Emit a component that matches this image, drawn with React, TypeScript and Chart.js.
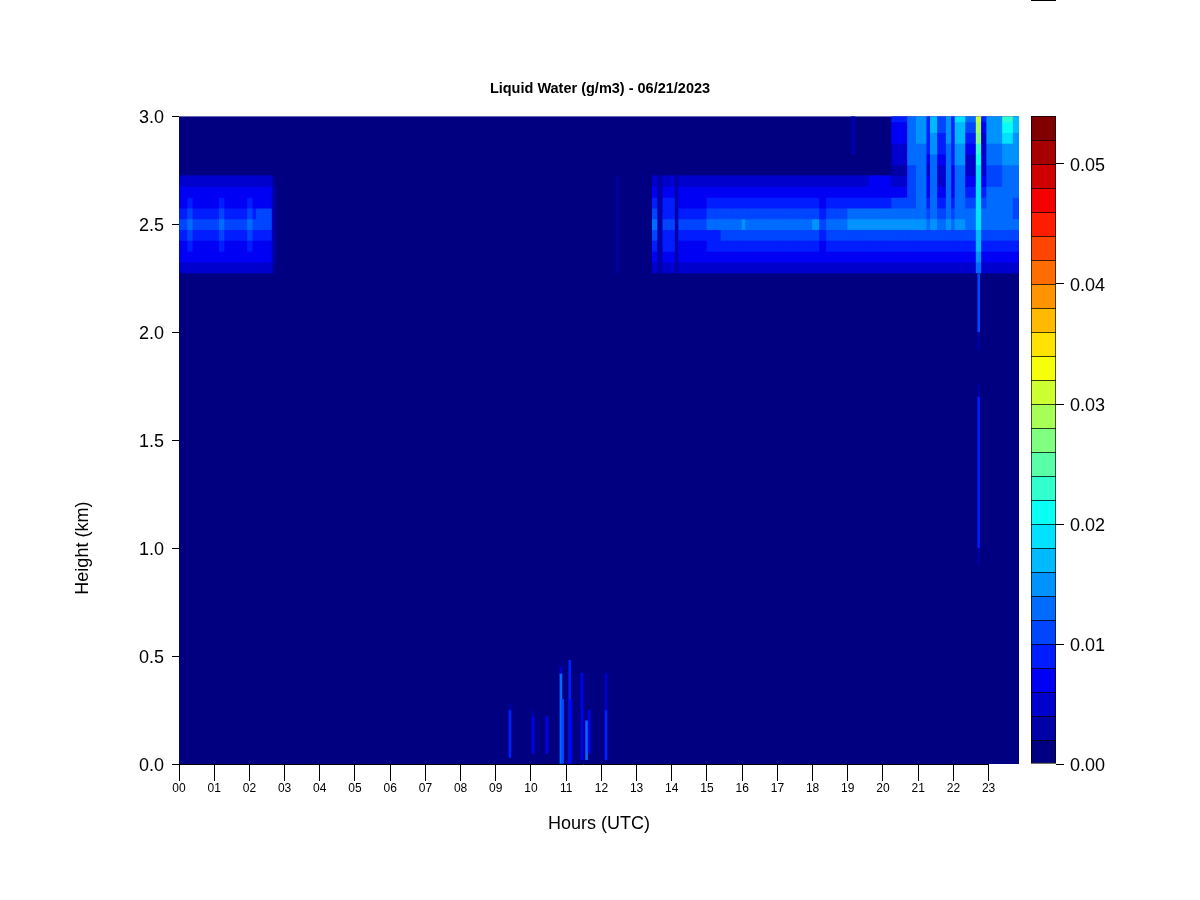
import React, { useEffect, useRef } from "react";
import { Chart, registerables } from "chart.js";

Chart.register(...registerables);

const FONT = "'Liberation Sans', Arial, sans-serif";
const titleText = "Liquid Water (g/m3) - 06/21/2023";
const xLabel = "Hours (UTC)";
const yLabel = "Height (km)";

// Colour bins: each is 0.002 g/m3 wide, from 0 to 0.054
const binWidth = 0.002;
const binColors = [
  "#000080", "#0000A7", "#0000CE", "#0000F5", "#001DFF", "#0045FF", "#006CFF", "#0093FF", "#00BAFF",
  "#00E2FF", "#0AFFF5", "#31FFCE", "#58FFA7", "#80FF80", "#A7FF58", "#CEFF31", "#F5FF0A", "#FFE200",
  "#FFBA00", "#FF9300", "#FF6C00", "#FF4500", "#FF1D00", "#F50000", "#CE0000", "#A70000", "#800000",
];

// Upper layer gates (km), the order used by each row of upperValues
const upperGates = [2.3, 2.35, 2.4, 2.45, 2.5, 2.55, 2.6, 2.65, 2.7, 2.75, 2.8, 2.85, 2.9, 2.95, 3.0];
const gateHalf = 0.025;
const columnStep = 0.05;

// Time spans (hours UTC) and liquid water (thousandths of g/m3) at each gate
const spanStart = [
  0, 0.25, 0.4, 1.15, 1.3, 1.95, 2.1, 2.2, 2.65, 2.7, 12.42, 13.45, 13.6, 13.75, 14.1, 14.2, 15, 15.4, 15.7, 16, 16.1,
  17, 17.4, 18, 18.2, 18.4, 19, 19.1, 19.2, 19.6, 20.25, 20.7, 20.95, 21.25, 21.35, 21.55, 21.8, 21.95, 22.05, 22.35,
  22.65, 22.8, 22.95, 23.4, 23.7,
];
const spanEnd = [
  0.25, 0.4, 1.15, 1.3, 1.95, 2.1, 2.2, 2.65, 2.7, 2.75, 12.47, 13.6, 13.75, 14.1, 14.2, 15, 15.4, 15.7, 16, 16.1, 17,
  17.4, 18, 18.2, 18.4, 19, 19.1, 19.2, 19.6, 20.25, 20.7, 20.95, 21.25, 21.35, 21.55, 21.8, 21.95, 22.05, 22.35, 22.65,
  22.8, 22.95, 23.4, 23.7, 23.9,
];
const upperValues = [
  [5, 6, 7, 9, 11, 9, 7, 6, 5, 0, 0, 0, 0, 0, 0],
  [5, 7, 8, 10, 13, 10, 8, 7, 5, 0, 0, 0, 0, 0, 0],
  [5, 6, 7, 9, 11, 9, 7, 6, 5, 0, 0, 0, 0, 0, 0],
  [5, 7, 8, 10, 13, 10, 8, 7, 5, 0, 0, 0, 0, 0, 0],
  [5, 6, 7, 9, 11, 9, 7, 6, 5, 0, 0, 0, 0, 0, 0],
  [5, 7, 8, 10, 13, 10, 8, 7, 5, 0, 0, 0, 0, 0, 0],
  [5, 6, 7, 9, 11, 9, 7, 6, 5, 0, 0, 0, 0, 0, 0],
  [5, 6, 7, 9, 11, 11, 7, 6, 5, 0, 0, 0, 0, 0, 0],
  [3, 3, 3, 3, 3, 3, 3, 3, 3, 0, 0, 0, 0, 0, 0],
  [1, 3, 3, 3, 3, 3, 3, 3, 1, 0, 0, 0, 0, 0, 0],
  [3, 3, 3, 3, 3, 3, 3, 3, 3, 0, 0, 0, 0, 0, 0],
  [5, 6, 8, 10, 13, 10, 8, 6, 5, 0, 0, 0, 0, 0, 0],
  [2, 3, 3, 3, 3, 3, 3, 3, 2, 0, 0, 0, 0, 0, 0],
  [5, 6, 8, 9, 10, 9, 8, 6, 5, 0, 0, 0, 0, 0, 0],
  [3, 3, 3, 3, 3, 3, 3, 3, 3, 0, 0, 0, 0, 0, 0],
  [4, 6, 7, 9, 11, 9, 7, 6, 4, 0, 0, 0, 0, 0, 0],
  [5, 6, 8, 9, 12, 10, 8, 6, 4, 0, 0, 0, 0, 0, 0],
  [5, 7, 8, 11, 13, 11, 8, 6, 5, 0, 0, 0, 0, 0, 0],
  [5, 6, 8, 10, 12, 10, 8, 6, 4, 0, 0, 0, 0, 0, 0],
  [5, 7, 9, 11, 14, 11, 9, 7, 5, 0, 0, 0, 0, 0, 0],
  [5, 7, 8, 10, 13, 10, 8, 6, 5, 0, 0, 0, 0, 0, 0],
  [5, 7, 9, 11, 13, 11, 9, 7, 5, 0, 0, 0, 0, 0, 0],
  [5, 7, 8, 10, 12, 10, 8, 6, 5, 0, 0, 0, 0, 0, 0],
  [5, 7, 9, 11, 14, 11, 9, 7, 5, 0, 0, 0, 0, 0, 0],
  [4, 6, 7, 9, 11, 9, 7, 6, 4, 0, 0, 0, 0, 0, 0],
  [5, 7, 9, 11, 13, 11, 9, 7, 5, 0, 0, 0, 0, 0, 0],
  [5, 7, 9, 11, 14, 12, 9, 7, 5, 0, 0, 0, 0, 0, 0],
  [5, 7, 9, 11, 14, 12, 9, 7, 5, 0, 0, 3, 3, 3, 3],
  [5, 7, 9, 11, 14, 12, 9, 7, 5, 0, 0, 0, 0, 0, 0],
  [5, 7, 9, 11, 15, 13, 9, 7, 6, 1, 0, 0, 0, 0, 0],
  [5, 7, 9, 11, 15, 13, 10, 7, 5, 3, 5, 5, 6, 7, 9],
  [5, 7, 9, 11, 15, 13, 11, 11, 11, 11, 13, 13, 13, 13, 13],
  [5, 7, 9, 11, 15, 13, 13, 13, 13, 13, 13, 13, 15, 15, 15],
  [5, 7, 9, 11, 13, 11, 9, 7, 7, 5, 7, 9, 9, 9, 9],
  [5, 7, 9, 11, 15, 13, 13, 13, 13, 13, 13, 15, 15, 17, 17],
  [5, 7, 9, 11, 13, 11, 9, 7, 5, 5, 7, 9, 9, 11, 11],
  [5, 7, 9, 11, 15, 13, 13, 13, 13, 13, 13, 13, 15, 15, 15],
  [5, 7, 9, 11, 13, 11, 9, 7, 7, 7, 9, 9, 9, 9, 9],
  [5, 7, 9, 11, 15, 13, 13, 13, 13, 13, 15, 15, 17, 17, 19],
  [5, 7, 9, 11, 13, 13, 11, 9, 7, 5, 5, 7, 9, 11, 13],
  [13, 15, 17, 17, 19, 19, 19, 19, 19, 19, 21, 23, 27, 29, 31],
  [5, 7, 9, 11, 13, 13, 11, 9, 7, 5, 5, 5, 5, 7, 9],
  [5, 7, 9, 11, 13, 13, 13, 13, 11, 11, 13, 13, 15, 15, 15],
  [5, 7, 9, 11, 13, 13, 13, 13, 13, 13, 15, 15, 19, 21, 23],
  [5, 7, 9, 11, 13, 11, 11, 13, 13, 13, 15, 15, 15, 17, 17],
];

// Narrow streaks outside the upper layer
const streakHour = [
  9.4, 9.4, 10.06, 10.06, 10.45, 10.85, 10.9, 10.85, 11.1, 11.13, 11.45, 11.58, 11.65, 12.13, 12.13, 22.72, 22.72,
  22.72, 22.72, 22.72,
];
const streakLow = [
  0.03, 0.25, 0.05, 0.22, 0.05, 0, 0, 0.42, 0, 0, 0.02, 0.02, 0.05, 0.02, 0.25, 2.0, 1.92, 1.68, 1.0, 0.93,
];
const streakHigh = [
  0.25, 0.28, 0.22, 0.25, 0.22, 0.42, 0.3, 0.45, 0.48, 0.3, 0.42, 0.2, 0.25, 0.25, 0.42, 2.27, 2.0, 1.76, 1.7, 1.0,
];
const streakValue = [9, 3, 7, 3, 7, 13, 11, 5, 9, 7, 7, 13, 7, 9, 5, 11, 3, 3, 9, 3];

const hourTickEnd = 23;
const xMax = 23.864;
const yMax = 3;
const yLabelCentre = 1.0;
const colorbarMax = 0.054;

const colorFor = (value: number) =>
  binColors[Math.min(binColors.length - 1, Math.max(0, Math.floor(value / binWidth)))];

const layerCells = () => {
  const cells: any[] = [];
  spanStart.forEach((start, s) => {
    const columns = Math.max(1, Math.round((spanEnd[s] - start) / columnStep));
    for (let c = 0; c < columns; c++) {
      upperGates.forEach((gate, g) => {
        const v = upperValues[s][g] / 1000;
        if (v < binWidth) return;
        cells.push({ x: start + (c + 0.5) * columnStep, y: [gate - gateHalf, gate + gateHalf], v });
      });
    }
  });
  return cells;
};

const streakCells = () =>
  streakHour.map((x, i) => ({ x, y: [streakLow[i], streakHigh[i]], v: streakValue[i] / 1000 }));

const plotBackground = {
  id: "plotBackground",
  beforeDatasetsDraw(chart: any) {
    const { ctx, chartArea: a } = chart;
    ctx.save();
    ctx.fillStyle = binColors[0];
    ctx.fillRect(a.left, a.top, a.right - a.left, a.bottom - a.top);
    ctx.restore();
  },
};

const axisDecor = {
  id: "axisDecor",
  afterDraw(chart: any) {
    const { ctx, scales } = chart;
    const x0 = scales.x.getPixelForValue(0);
    const x1 = scales.x.getPixelForValue(hourTickEnd);
    const y0 = scales.y.getPixelForValue(0);
    ctx.save();
    ctx.strokeStyle = "#000";
    ctx.lineWidth = 1;
    ctx.beginPath();
    ctx.moveTo(x0, y0 + 0.5);
    ctx.lineTo(x1, y0 + 0.5);
    ctx.stroke();
    ctx.translate(83, scales.y.getPixelForValue(yLabelCentre));
    ctx.rotate(-Math.PI / 2);
    ctx.fillStyle = "#000";
    ctx.font = `18px ${FONT}`;
    ctx.textAlign = "center";
    ctx.textBaseline = "middle";
    ctx.fillText(yLabel, 0, 0);
    ctx.restore();
  },
};

const topMark = {
  id: "topMark",
  afterDraw(chart: any) {
    const { ctx, chartArea: a } = chart;
    ctx.save();
    ctx.fillStyle = "#000";
    ctx.fillRect(a.left, 0, a.right - a.left, 1);
    ctx.restore();
  },
};

export default function App() {
  const mainRef = useRef<HTMLCanvasElement>(null);
  const barRef = useRef<HTMLCanvasElement>(null);

  useEffect(() => {
    const cellColor = (ctx: any) => colorFor(ctx.raw?.v ?? 0);
    const main = new Chart(mainRef.current as any, {
      type: "bar",
      data: {
        datasets: [
          { data: layerCells(), backgroundColor: cellColor, barThickness: 2, grouped: false } as any,
          { data: streakCells(), backgroundColor: cellColor, barThickness: 2, grouped: false } as any,
        ],
      },
      plugins: [plotBackground, axisDecor],
      options: {
        responsive: false,
        animation: false,
        layout: { padding: 0 },
        plugins: {
          legend: { display: false },
          tooltip: { enabled: false },
          title: {
            display: true,
            text: titleText,
            color: "#000",
            font: { family: FONT, size: 14.5, weight: "bold" },
            padding: { top: 80, bottom: 19 },
          },
        },
        scales: {
          x: {
            type: "linear",
            min: 0,
            max: xMax,
            offset: false,
            border: { display: false },
            grid: { offset: false, drawOnChartArea: false, drawTicks: true, tickLength: 17, tickColor: "#000", tickWidth: 1 },
            ticks: {
              includeBounds: false,
              stepSize: 1,
              autoSkip: false,
              maxRotation: 0,
              padding: 0,
              color: "#000",
              font: { family: FONT, size: 12 },
              callback: (v: any) => String(v).padStart(2, "0"),
            },
            title: {
              display: true,
              text: xLabel,
              color: "#000",
              font: { family: FONT, size: 18 },
              padding: { top: 0, bottom: 65 },
            },
            afterFit: (s: any) => {
              s.height = 136;
            },
          },
          y: {
            min: 0,
            max: yMax,
            border: { display: false },
            grid: { drawOnChartArea: false, drawTicks: true, tickLength: 7, tickColor: "#000", tickWidth: 1 },
            ticks: {
              stepSize: 0.5,
              padding: 8,
              color: "#000",
              font: { family: FONT, size: 18, lineHeight: "4px" },
              callback: (v: any) => ["", Number(v).toFixed(1)],
            },
            afterFit: (s: any) => {
              s.width = 179;
            },
          },
          spacer: {
            position: "right",
            display: true,
            border: { display: false },
            grid: { display: false },
            ticks: { display: false },
            afterFit: (s: any) => {
              s.width = 181;
            },
          },
        },
      } as any,
    });

    const bins = binColors.map((_, i) => ({ x: 0, y: [i * binWidth, (i + 1) * binWidth] }));
    const bar = new Chart(barRef.current as any, {
      type: "bar",
      data: {
        datasets: [
          {
            data: bins,
            backgroundColor: binColors,
            borderColor: "#000",
            borderWidth: 1,
            borderSkipped: (ctx: any) => (ctx.dataIndex === 0 ? false : "bottom"),
            barThickness: 25,
          } as any,
        ],
      },
      plugins: [topMark],
      options: {
        responsive: false,
        animation: false,
        layout: { padding: { left: 31, right: 44, top: 116, bottom: 136 } },
        plugins: { legend: { display: false }, tooltip: { enabled: false }, title: { display: false } },
        scales: {
          x: { type: "linear", min: -1, max: 1, display: false },
          y: {
            position: "right",
            min: 0,
            max: colorbarMax,
            border: { display: false },
            grid: { drawOnChartArea: false, drawTicks: true, tickLength: 8, tickColor: "#000", tickWidth: 1 },
            ticks: {
              includeBounds: false,
              stepSize: 0.01,
              padding: 6,
              color: "#000",
              font: { family: FONT, size: 18, lineHeight: "4px" },
              callback: (v: any) => ["", Number(v).toFixed(2)],
            },
            afterFit: (s: any) => {
              s.width = 100;
            },
          },
        },
      } as any,
    });

    return () => {
      main.destroy();
      bar.destroy();
    };
  }, []);

  return (
    <div style={{ position: "absolute", left: 0, top: 0, width: 1200, height: 900, background: "#fff" }}>
      <canvas ref={mainRef} width={1200} height={900} style={{ position: "absolute", left: 0, top: 0 }} />
      <canvas ref={barRef} width={200} height={900} style={{ position: "absolute", left: 1000, top: 0 }} />
    </div>
  );
}
